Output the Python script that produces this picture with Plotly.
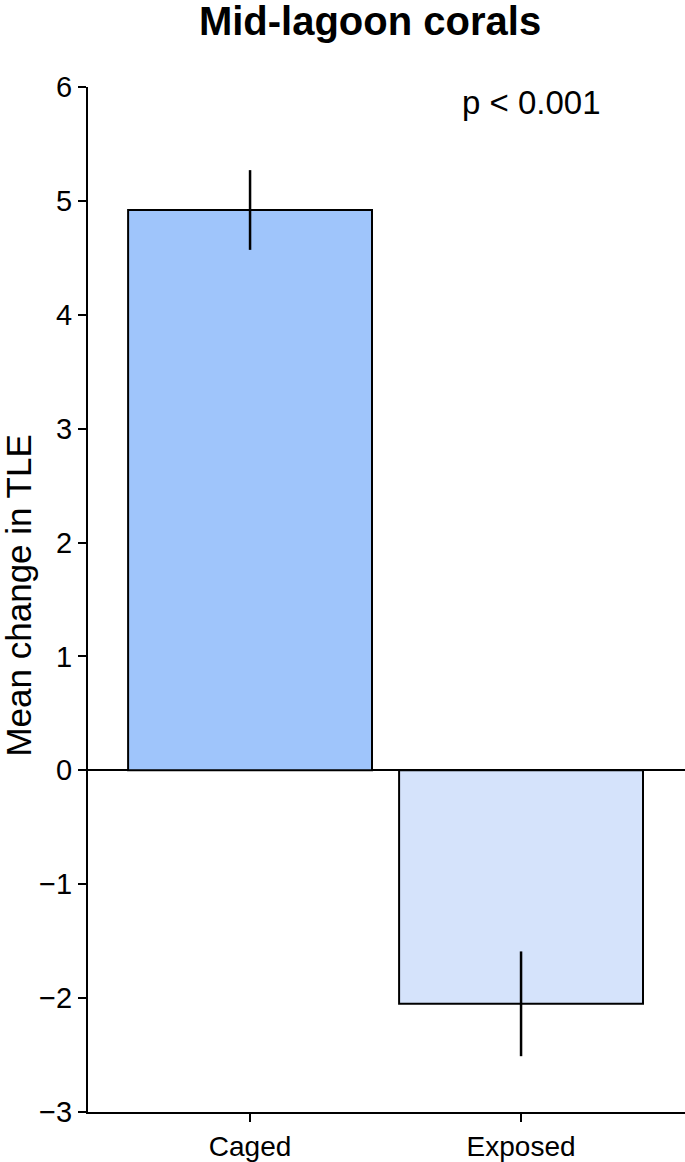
import plotly.graph_objects as go

categories = ["Caged", "Exposed"]
means = [4.92, -2.05]
errors = [0.35, 0.46]
colors = ["#9fc5fb", "#d5e3fb"]
y_ticks = [-3, -2, -1, 0, 1, 2, 3, 4, 5, 6]
title_text = "Mid-lagoon corals"
y_title = "Mean change in TLE"
p_text = "p < 0.001"

W, H = 685, 1162
L, R, T, B = 88, 0, 87, 41

x_pos = list(range(len(categories)))

fig = go.Figure()
fig.add_trace(go.Bar(
    x=x_pos, y=means, width=0.9,
    marker=dict(color=colors, line=dict(color="black", width=2)),
    error_y=dict(type="data", array=errors, visible=True, color="black",
                 thickness=2.5, width=0),
    showlegend=False,
))

font = "Liberation Sans, Arial, Helvetica, sans-serif"

fig.update_layout(
    width=W, height=H,
    margin=dict(l=L, r=R, t=T, b=B),
    plot_bgcolor="white", paper_bgcolor="white",
    font=dict(family=font, color="black"),
    title=dict(text="<b>" + title_text + "</b>", x=370 / W, xref="container",
               xanchor="center", y=1 - 21 / H, yref="container", yanchor="middle",
               font=dict(size=40, family=font, color="black")),
    xaxis=dict(range=[-0.598, 1.605], tickvals=x_pos, ticktext=categories,
               showline=True, linecolor="black", linewidth=2,
               ticks="outside", ticklen=8, tickwidth=1.5, tickcolor="black",
               tickfont=dict(size=28), showgrid=False, zeroline=False,
               fixedrange=True),
    yaxis=dict(range=[-3, 6], tickvals=y_ticks,
               showline=True, linecolor="black", linewidth=2,
               ticks="outside", ticklen=8, tickwidth=1.5, tickcolor="black",
               tickfont=dict(size=29), showgrid=False,
               zeroline=True, zerolinecolor="black", zerolinewidth=2,
               fixedrange=True),
    annotations=[
        dict(text=y_title, xref="paper", yref="paper", x=(19 - L) / (W - L - R),
             y=(H - B - 600) / (H - T - B), textangle=-90, showarrow=False,
             xanchor="center", yanchor="middle", font=dict(size=35)),
        dict(text=p_text, xref="x", yref="y", x=1.04, y=5.86, showarrow=False,
             xanchor="center", yanchor="middle", font=dict(size=33)),
    ],
)

# Remove the browser's default 8px body margin so the figure sits at (0, 0).
fig.write_html("out.html",
               config={"displayModeBar": False},
               post_script="document.body.style.margin='0';")
